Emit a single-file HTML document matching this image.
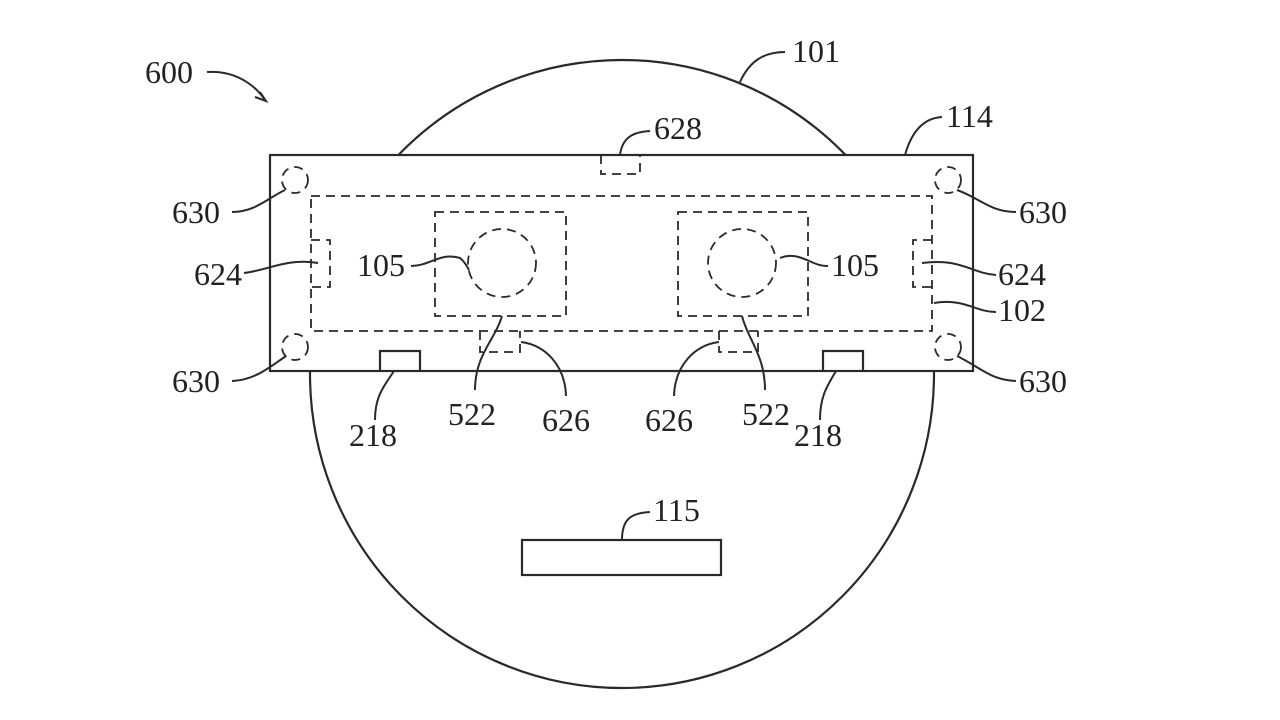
<!DOCTYPE html>
<html><head><meta charset="utf-8"><style>
html,body{margin:0;padding:0;background:#fff;}
svg{display:block}
text{font-family:"Liberation Serif",serif;font-size:32px;fill:#222}
</style></head><body>
<svg width="1280" height="720" viewBox="0 0 1280 720" xmlns="http://www.w3.org/2000/svg">
<rect width="1280" height="720" fill="#fff"/>
<g stroke="#2a2a2a" stroke-width="2.2">
<ellipse cx="622" cy="374" rx="312" ry="314" fill="none"/>
<rect x="270" y="155" width="703" height="216" fill="#fff"/>
<rect x="522" y="540" width="199" height="35" fill="none"/>
<path d="M380 371 V351 H420 V371" fill="none"/>
<path d="M823 371 V351 H863 V371" fill="none"/>
</g>
<g fill="none" stroke="#2a2a2a" stroke-width="1.8" stroke-dasharray="9 6">
<rect x="311" y="196" width="621" height="135"/>
<rect x="435" y="212" width="131" height="104"/>
<rect x="678" y="212" width="130" height="104"/>
<circle cx="502" cy="263" r="34"/>
<circle cx="742" cy="263" r="34"/>
<circle cx="295" cy="180" r="13"/>
<circle cx="948" cy="180" r="13"/>
<circle cx="295" cy="347" r="13"/>
<circle cx="948" cy="347" r="13"/>
<path d="M601 155 V174 H640 V155"/>
<path d="M311 240 H330 V287 H311"/>
<path d="M932 240 H913 V287 H932"/>
<path d="M480 331 V352 H520 V331"/>
<path d="M719 331 V352 H758 V331"/>
</g>
<g fill="none" stroke="#2a2a2a" stroke-width="2">
<path d="M207 72 C235 70 255 85 265 100"/>
<path d="M260 92 L266 101 L255 97"/>
<path d="M740 82 C750 60 765 52 785 52"/>
<path d="M905 155 C912 130 925 118 942 117"/>
<path d="M620 155 C622 140 630 132 650 131"/>
<path d="M232 212 C255 212 268 198 285 190"/>
<path d="M232 381 C255 380 270 367 286 356"/>
<path d="M244 273 C270 270 285 258 318 263"/>
<path d="M411 266 C430 266 440 252 460 258 C465 262 468 268 469 270"/>
<path d="M828 266 C812 267 800 250 780 258"/>
<path d="M1016 212 C990 212 980 198 957 190"/>
<path d="M1016 381 C990 380 980 367 957 356"/>
<path d="M996 275 C970 273 962 258 922 263"/>
<path d="M996 312 C975 312 965 298 934 303"/>
<path d="M394 371 C385 385 375 395 375 420"/>
<path d="M836 371 C828 385 820 395 820 420"/>
<path d="M502 316 C495 340 475 355 475 390"/>
<path d="M742 316 C748 340 765 355 765 390"/>
<path d="M521 342 C545 345 565 365 566 396"/>
<path d="M719 342 C695 345 675 365 674 396"/>
<path d="M622 540 C622 520 630 513 650 512"/>
</g>
<g>
<text x="145" y="83">600</text>
<text x="792" y="62">101</text>
<text x="946" y="127">114</text>
<text x="654" y="139">628</text>
<text x="172" y="223">630</text>
<text x="172" y="392">630</text>
<text x="1019" y="223">630</text>
<text x="1019" y="392">630</text>
<text x="194" y="285">624</text>
<text x="998" y="285">624</text>
<text x="998" y="321">102</text>
<text x="357" y="276">105</text>
<text x="831" y="276">105</text>
<text x="349" y="446">218</text>
<text x="794" y="446">218</text>
<text x="448" y="425">522</text>
<text x="742" y="425">522</text>
<text x="542" y="431">626</text>
<text x="645" y="431">626</text>
<text x="653" y="521">115</text>
</g>
</svg>
</body></html>
